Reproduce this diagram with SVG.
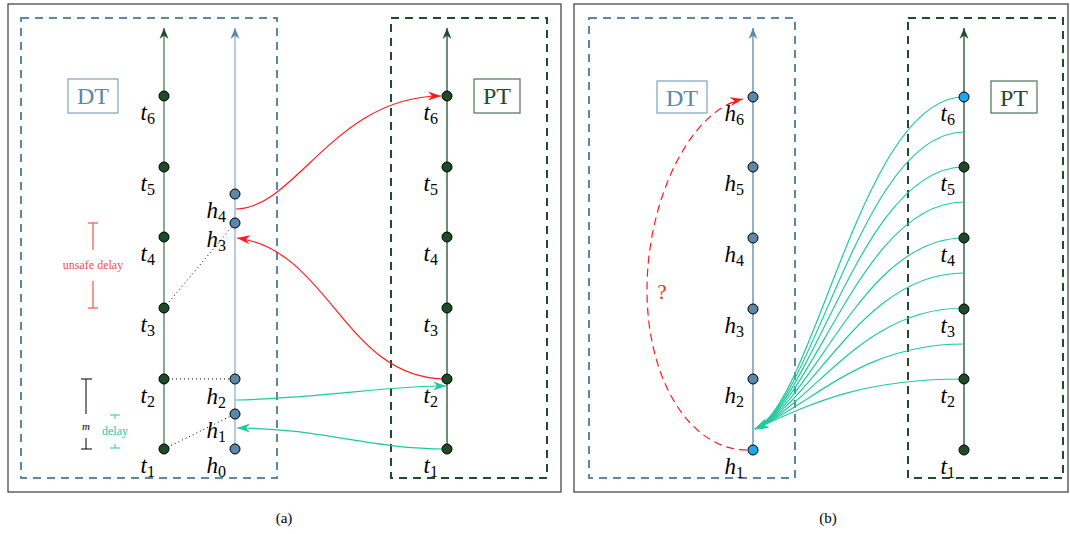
<svg xmlns="http://www.w3.org/2000/svg" width="1070" height="534" viewBox="0 0 1070 534">
  <style>
    .frame { fill: none; stroke: #3a3a3a; stroke-width: 1.2; }
    .dtbox { fill: none; stroke: #5b87a8; stroke-width: 2; stroke-dasharray: 8 6; }
    .ptbox { fill: none; stroke: #1f4d2b; stroke-width: 2; stroke-dasharray: 8 6; }
    .dtlab { fill: #fff; stroke: #7fa3bf; stroke-width: 1.2; }
    .ptlab { fill: #fff; stroke: #4f7458; stroke-width: 1.2; }
    .dttext { font-family: "Liberation Serif", serif; font-size: 24px; fill: #5b87a8; text-anchor: middle; }
    .pttext { font-family: "Liberation Serif", serif; font-size: 24px; fill: #1f4d2b; text-anchor: middle; }
    .axis-g-soft { stroke: #6f9677; stroke-width: 1.6; fill: none; }
    .axis-b-soft { stroke: #a5bfd2; stroke-width: 1.6; fill: none; }
    .axis-g { stroke: #1f4d2b; stroke-width: 1.3; fill: none; }
    .axis-b { stroke: #5b87a8; stroke-width: 1.3; fill: none; }
    .gdot { fill: #1e4a28; stroke: #000; stroke-width: 1; }
    .bdot { fill: #5b87a8; stroke: #000; stroke-width: 1; }
    .cdot { fill: #1aa7ec; stroke: #000; stroke-width: 1; }
    .lab { font-family: "Liberation Serif", serif; font-style: italic; font-size: 23px; fill: #000; text-anchor: end; }
    .sub { font-size: 16px; font-style: normal; }
    .red { stroke: #ff1a1a; stroke-width: 1.2; fill: none; }
    .reddash { stroke: #ff1a1a; stroke-width: 1.2; fill: none; stroke-dasharray: 8 5; }
    .cyan { stroke: #1ec9a0; stroke-width: 1.2; fill: none; }
    .dots { stroke: #000; stroke-width: 1; stroke-dasharray: 1 3; fill: none; }
    .cap { font-family: "Liberation Serif", serif; font-size: 15px; fill: #000; text-anchor: middle; }
  </style>
  <defs>
    <marker id="tipG" viewBox="-12 -6 13 12" refX="0" refY="0" markerWidth="13" markerHeight="12" markerUnits="userSpaceOnUse" orient="auto">
      <path d="M0,0 L-11,-4.5 L-7.5,0 L-11,4.5 Z" fill="#1f4d2b"/>
    </marker>
    <marker id="tipB" viewBox="-12 -6 13 12" refX="0" refY="0" markerWidth="13" markerHeight="12" markerUnits="userSpaceOnUse" orient="auto">
      <path d="M0,0 L-11,-4.5 L-7.5,0 L-11,4.5 Z" fill="#5b87a8"/>
    </marker>
    <marker id="tipR" viewBox="-14 -6 15 12" refX="0" refY="0" markerWidth="15" markerHeight="12" markerUnits="userSpaceOnUse" orient="auto">
      <path d="M0,0 L-13,-4.5 L-9,0 L-13,4.5 Z" fill="#ff1a1a"/>
    </marker>
    <marker id="tipC" viewBox="-14 -6 15 12" refX="0" refY="0" markerWidth="15" markerHeight="12" markerUnits="userSpaceOnUse" orient="auto">
      <path d="M0,0 L-13,-4.5 L-9,0 L-13,4.5 Z" fill="#1ec9a0"/>
    </marker>
  </defs>

  <rect width="1070" height="534" fill="#fff"/>

  <!-- panel (a) -->
  <g id="panel-a">
    <rect class="frame" x="8" y="4" width="553" height="488"/>
    <rect class="dtbox" x="21" y="18" width="256" height="460"/>
    <rect class="ptbox" x="391" y="18" width="156" height="460"/>
    <g id="a-dt-label">
      <rect class="dtlab" x="68" y="79" width="50" height="34"/>
      <text class="dttext" x="93" y="104">DT</text>
    </g>
    <g id="a-pt-label">
      <rect class="ptlab" x="474" y="79" width="46" height="34"/>
      <text class="pttext" x="497" y="104">PT</text>
    </g>
    <g id="a-axes">
      <line class="axis-g-soft" x1="164" y1="449" x2="164" y2="28" marker-end="url(#tipG)"/>
      <line class="axis-b-soft" x1="235" y1="449" x2="235" y2="28" marker-end="url(#tipB)"/>
      <line class="axis-g" x1="447" y1="449" x2="447" y2="28" marker-end="url(#tipG)"/>
    </g>
    <!-- interval annotations -->
    <g id="a-unsafe-delay" stroke="#ff5050" stroke-width="1.2">
      <line x1="88" y1="223" x2="98" y2="223"/>
      <line x1="93" y1="223" x2="93" y2="250"/>
      <line x1="93" y1="281" x2="93" y2="308"/>
      <line x1="88" y1="308" x2="98" y2="308"/>
      <text x="93" y="269" stroke="none" fill="#ff4d4d" font-family="Liberation Serif, serif" font-size="12" text-anchor="middle">unsafe delay</text>
    </g>
    <g id="a-m" stroke="#000" stroke-width="1">
      <line x1="81" y1="379" x2="92" y2="379"/>
      <line x1="86" y1="379" x2="86" y2="414"/>
      <line x1="86" y1="438" x2="86" y2="449"/>
      <line x1="81" y1="449" x2="92" y2="449"/>
      <text x="86" y="430" stroke="none" fill="#000" font-family="Liberation Serif, serif" font-style="italic" font-size="11" text-anchor="middle">m</text>
    </g>
    <g id="a-delay" stroke="#1ec9a0" stroke-width="1">
      <line x1="110" y1="415" x2="120" y2="415"/>
      <line x1="115" y1="415" x2="115" y2="419"/>
      <line x1="115" y1="444" x2="115" y2="448"/>
      <line x1="110" y1="448" x2="120" y2="448"/>
      <text x="115" y="435" stroke="none" fill="#1ec9a0" font-family="Liberation Serif, serif" font-size="12" text-anchor="middle">delay</text>
    </g>
  </g>

  <!-- panel (b) -->
  <g id="panel-b">
    <rect class="frame" x="574" y="4" width="494" height="488"/>
    <rect class="dtbox" x="589" y="18" width="206" height="460"/>
    <rect class="ptbox" x="908" y="18" width="155" height="460"/>
    <g id="b-dt-label">
      <rect class="dtlab" x="657" y="81" width="50" height="32"/>
      <text class="dttext" x="682" y="106">DT</text>
    </g>
    <g id="b-pt-label">
      <rect class="ptlab" x="991" y="81" width="46" height="32"/>
      <text class="pttext" x="1014" y="106">PT</text>
    </g>
    <g id="b-axes">
      <line class="axis-b" x1="753" y1="450" x2="753" y2="28" marker-end="url(#tipB)"/>
      <line class="axis-g" x1="964" y1="450" x2="964" y2="28" marker-end="url(#tipG)"/>
    </g>
  </g>

  <!-- connectors -->
  <g id="connectors">
    <!-- (a) sync lines -->
    <line class="dots" x1="164" y1="449" x2="235" y2="414"/>
    <line class="dots" x1="164" y1="379" x2="235" y2="379"/>
    <line class="dots" x1="164" y1="308" x2="235" y2="223"/>
    <!-- (a) red messages -->
    <path class="red" d="M236,209 C295,209 335,96 441,96" marker-end="url(#tipR)"/>
    <path class="red" d="M446,379 C345,379 330,250 237,238" marker-end="url(#tipR)"/>
    <!-- (a) cyan messages -->
    <path class="cyan" d="M236,400 C330,398 380,386 446,386" marker-end="url(#tipC)"/>
    <path class="cyan" d="M446,449 C370,449 320,428 237,428" marker-end="url(#tipC)"/>
    <!-- (b) unknown delivery -->
    <path class="reddash" d="M747,450 C690,450 647,380 647,290 C647,200 690,110 743,99" marker-end="url(#tipR)"/>
    <text x="662" y="299" fill="#ff1a1a" font-family="Liberation Serif, serif" font-size="20" text-anchor="middle">?</text>
    <!-- (b) fan of PT samples into h1 -->
    <g id="fan">
      <path class="cyan" d="M964,97 C862,97 815,402 755,429" marker-end="url(#tipC)"/>
      <path class="cyan" d="M964,132 C862,132 815,402 755,429" marker-end="url(#tipC)"/>
      <path class="cyan" d="M964,167 C862,167 815,402 755,429" marker-end="url(#tipC)"/>
      <path class="cyan" d="M964,202 C862,202 815,402 755,429" marker-end="url(#tipC)"/>
      <path class="cyan" d="M964,238 C862,238 815,402 755,429" marker-end="url(#tipC)"/>
      <path class="cyan" d="M964,273 C862,273 815,402 755,429" marker-end="url(#tipC)"/>
      <path class="cyan" d="M964,308 C862,308 815,402 755,429" marker-end="url(#tipC)"/>
      <path class="cyan" d="M964,344 C862,344 815,402 755,429" marker-end="url(#tipC)"/>
      <path class="cyan" d="M964,379 C862,379 815,402 755,429" marker-end="url(#tipC)"/>
    </g>
  </g>

  <!-- (a) DT timeline t -->
  <g id="a-t1"><circle class="gdot" cx="164" cy="449" r="5"/><text class="lab" x="155" y="473">t<tspan class="sub" dy="4">1</tspan></text></g>
  <g id="a-t2"><circle class="gdot" cx="164" cy="379" r="5"/><text class="lab" x="155" y="403">t<tspan class="sub" dy="4">2</tspan></text></g>
  <g id="a-t3"><circle class="gdot" cx="164" cy="308" r="5"/><text class="lab" x="155" y="332">t<tspan class="sub" dy="4">3</tspan></text></g>
  <g id="a-t4"><circle class="gdot" cx="164" cy="237" r="5"/><text class="lab" x="155" y="261">t<tspan class="sub" dy="4">4</tspan></text></g>
  <g id="a-t5"><circle class="gdot" cx="164" cy="167" r="5"/><text class="lab" x="155" y="191">t<tspan class="sub" dy="4">5</tspan></text></g>
  <g id="a-t6"><circle class="gdot" cx="164" cy="96" r="5"/><text class="lab" x="155" y="120">t<tspan class="sub" dy="4">6</tspan></text></g>

  <!-- (a) DT timeline h -->
  <g id="a-h0"><circle class="bdot" cx="235" cy="449" r="5"/><text class="lab" x="226" y="473">h<tspan class="sub" dy="4">0</tspan></text></g>
  <g id="a-h1"><circle class="bdot" cx="235" cy="414" r="5"/><text class="lab" x="226" y="438">h<tspan class="sub" dy="4">1</tspan></text></g>
  <g id="a-h2"><circle class="bdot" cx="235" cy="379" r="5"/><text class="lab" x="226" y="404">h<tspan class="sub" dy="4">2</tspan></text></g>
  <g id="a-h3"><circle class="bdot" cx="235" cy="223" r="5"/><text class="lab" x="226" y="247">h<tspan class="sub" dy="4">3</tspan></text></g>
  <g id="a-h4"><circle class="bdot" cx="235" cy="194" r="5"/><text class="lab" x="226" y="218">h<tspan class="sub" dy="4">4</tspan></text></g>

  <!-- (a) PT timeline -->
  <g id="a-pt1"><circle class="gdot" cx="447" cy="449" r="5"/><text class="lab" x="438" y="473">t<tspan class="sub" dy="4">1</tspan></text></g>
  <g id="a-pt2"><circle class="gdot" cx="447" cy="379" r="5"/><text class="lab" x="438" y="403">t<tspan class="sub" dy="4">2</tspan></text></g>
  <g id="a-pt3"><circle class="gdot" cx="447" cy="308" r="5"/><text class="lab" x="438" y="332">t<tspan class="sub" dy="4">3</tspan></text></g>
  <g id="a-pt4"><circle class="gdot" cx="447" cy="237" r="5"/><text class="lab" x="438" y="261">t<tspan class="sub" dy="4">4</tspan></text></g>
  <g id="a-pt5"><circle class="gdot" cx="447" cy="167" r="5"/><text class="lab" x="438" y="191">t<tspan class="sub" dy="4">5</tspan></text></g>
  <g id="a-pt6"><circle class="gdot" cx="447" cy="96" r="5"/><text class="lab" x="438" y="120">t<tspan class="sub" dy="4">6</tspan></text></g>

  <!-- (b) DT timeline h -->
  <g id="b-h1"><circle class="cdot" cx="753" cy="450" r="5"/><text class="lab" x="744" y="474">h<tspan class="sub" dy="4">1</tspan></text></g>
  <g id="b-h2"><circle class="bdot" cx="753" cy="379" r="5"/><text class="lab" x="744" y="403">h<tspan class="sub" dy="4">2</tspan></text></g>
  <g id="b-h3"><circle class="bdot" cx="753" cy="309" r="5"/><text class="lab" x="744" y="333">h<tspan class="sub" dy="4">3</tspan></text></g>
  <g id="b-h4"><circle class="bdot" cx="753" cy="238" r="5"/><text class="lab" x="744" y="262">h<tspan class="sub" dy="4">4</tspan></text></g>
  <g id="b-h5"><circle class="bdot" cx="753" cy="167" r="5"/><text class="lab" x="744" y="191">h<tspan class="sub" dy="4">5</tspan></text></g>
  <g id="b-h6"><circle class="bdot" cx="753" cy="97" r="5"/><text class="lab" x="744" y="121">h<tspan class="sub" dy="4">6</tspan></text></g>

  <!-- (b) PT timeline -->
  <g id="b-pt1"><circle class="gdot" cx="964" cy="450" r="5"/><text class="lab" x="955" y="474">t<tspan class="sub" dy="4">1</tspan></text></g>
  <g id="b-pt2"><circle class="gdot" cx="964" cy="379" r="5"/><text class="lab" x="955" y="403">t<tspan class="sub" dy="4">2</tspan></text></g>
  <g id="b-pt3"><circle class="gdot" cx="964" cy="309" r="5"/><text class="lab" x="955" y="333">t<tspan class="sub" dy="4">3</tspan></text></g>
  <g id="b-pt4"><circle class="gdot" cx="964" cy="238" r="5"/><text class="lab" x="955" y="262">t<tspan class="sub" dy="4">4</tspan></text></g>
  <g id="b-pt5"><circle class="gdot" cx="964" cy="167" r="5"/><text class="lab" x="955" y="191">t<tspan class="sub" dy="4">5</tspan></text></g>
  <g id="b-pt6"><circle class="cdot" cx="964" cy="97" r="5"/><text class="lab" x="955" y="121">t<tspan class="sub" dy="4">6</tspan></text></g>

  <!-- captions -->
  <text class="cap" x="284" y="523">(a)</text>
  <text class="cap" x="828" y="523">(b)</text>
</svg>
